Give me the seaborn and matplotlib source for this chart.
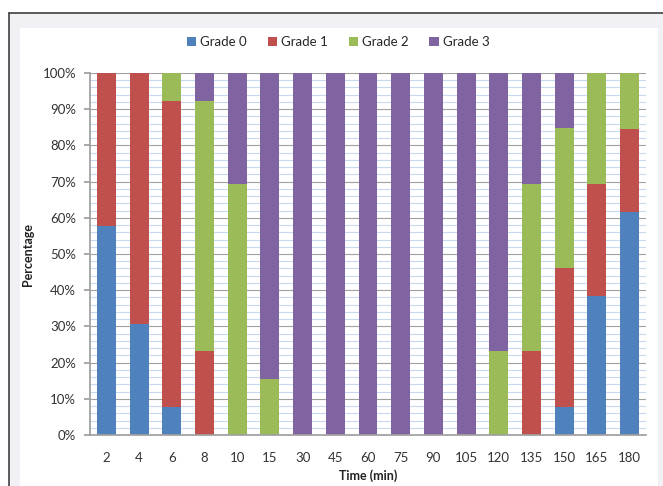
import matplotlib
matplotlib.use("Agg")
import matplotlib.pyplot as plt
from matplotlib.patches import Rectangle
from matplotlib.lines import Line2D
from matplotlib.ticker import MultipleLocator, PercentFormatter
import seaborn as sns
import pandas as pd
import numpy as np

times = ["2", "4", "6", "8", "10", "15", "30", "45", "60", "75", "90",
         "105", "120", "135", "150", "165", "180"]
grade0 = [57.7, 30.8, 7.7, 0, 0, 0, 0, 0, 0, 0, 0, 0, 0, 0, 7.7, 38.5, 61.5]
grade1 = [42.3, 69.2, 84.6, 23.1, 0, 0, 0, 0, 0, 0, 0, 0, 0, 23.1, 38.5, 30.8, 23.1]
grade2 = [0, 0, 7.7, 69.2, 69.2, 15.4, 0, 0, 0, 0, 0, 0, 23.1, 46.2, 38.5, 30.8, 15.4]
grade3 = [0, 0, 0, 7.7, 30.8, 84.6, 100, 100, 100, 100, 100, 100, 76.9, 30.8, 15.4, 0, 0]

series = ["Grade 0", "Grade 1", "Grade 2", "Grade 3"]
colors = ["#4F81BD", "#C0504D", "#9BBB59", "#8064A2"]

df = pd.DataFrame({"Time": times, "Grade 0": grade0, "Grade 1": grade1,
                   "Grade 2": grade2, "Grade 3": grade3})
cum = df[series].cumsum(axis=1)

sns.set_theme(style="white")
plt.rcParams["font.family"] = ["Lato", "DejaVu Sans"]

fig = plt.figure(figsize=(6.63, 4.86), dpi=100)
fig.patch.set_facecolor("white")
W, H = 663, 486

# frame: grey panel with dark top/left border and white chart area
fig.add_artist(Rectangle((9 / W, 0), 1 - 9 / W, 1 - 13 / H, transform=fig.transFigure,
                         facecolor="#F0F0F5", edgecolor="none", zorder=-3))
fig.add_artist(Rectangle((20 / W, 0), (658 - 20) / W, 1 - 28 / H, transform=fig.transFigure,
                         facecolor="white", edgecolor="none", zorder=-2))
fig.add_artist(Line2D([9 / W, 1], [1 - 13 / H, 1 - 13 / H], transform=fig.transFigure,
                      color="#404040", lw=1.2))
fig.add_artist(Line2D([9 / W, 9 / W], [0, 1 - 13 / H], transform=fig.transFigure,
                      color="#404040", lw=1.2))

ax = fig.add_axes([90 / W, 1 - 435 / H, (646 - 90) / W, (435 - 73) / H])
ax.set_facecolor("none")

# stacked bars drawn as overlapping cumulative totals, tallest first
for name, color in reversed(list(zip(series, colors))):
    sns.barplot(x=df["Time"], y=cum[name], color=color, width=0.58,
                saturation=1, ax=ax, zorder=3, linewidth=0, label=name)

ax.set_ylim(0, 100)
ax.set_xlim(-0.5, len(times) - 0.5)
ax.yaxis.set_major_locator(MultipleLocator(10))
ax.yaxis.set_minor_locator(MultipleLocator(2))
ax.yaxis.set_major_formatter(PercentFormatter(decimals=0))
ax.grid(which="minor", axis="y", color="#C6D9F1", lw=0.8, zorder=0)
ax.grid(which="major", axis="y", color="#A0A0A0", lw=0.8, zorder=1)
ax.grid(axis="x", visible=False)

for s in ["top", "right"]:
    ax.spines[s].set_visible(False)
ax.spines["left"].set_color("#A0A0A0")
ax.spines["bottom"].set_color("#A0A0A0")
ax.spines["left"].set_zorder(4)
ax.spines["bottom"].set_zorder(4)

ax.tick_params(axis="y", which="major", left=True, length=4, color="#A0A0A0",
               labelsize=9.5, labelcolor="#333333", pad=6)
ax.tick_params(axis="y", which="minor", left=False)
ax.tick_params(axis="x", bottom=False, labelsize=9.5, labelcolor="#333333", pad=6)

ax.set_xlabel("Time (min)", fontsize=9, fontweight="bold", color="#222222", labelpad=4)
ax.set_ylabel("Percentage", fontsize=9, fontweight="bold", color="#222222", labelpad=6)

handles = [Rectangle((0, 0), 1, 1, facecolor=c, edgecolor="none") for c in colors]
fig.legend(handles, series, loc="center", bbox_to_anchor=(338 / W, 1 - 42 / H), ncol=4,
           frameon=False, fontsize=9.5, handlelength=0.7, handleheight=0.7,
           handletextpad=0.3, columnspacing=1.6)
if ax.get_legend() is not None:
    ax.get_legend().remove()

fig.savefig("out.png", dpi=100)
